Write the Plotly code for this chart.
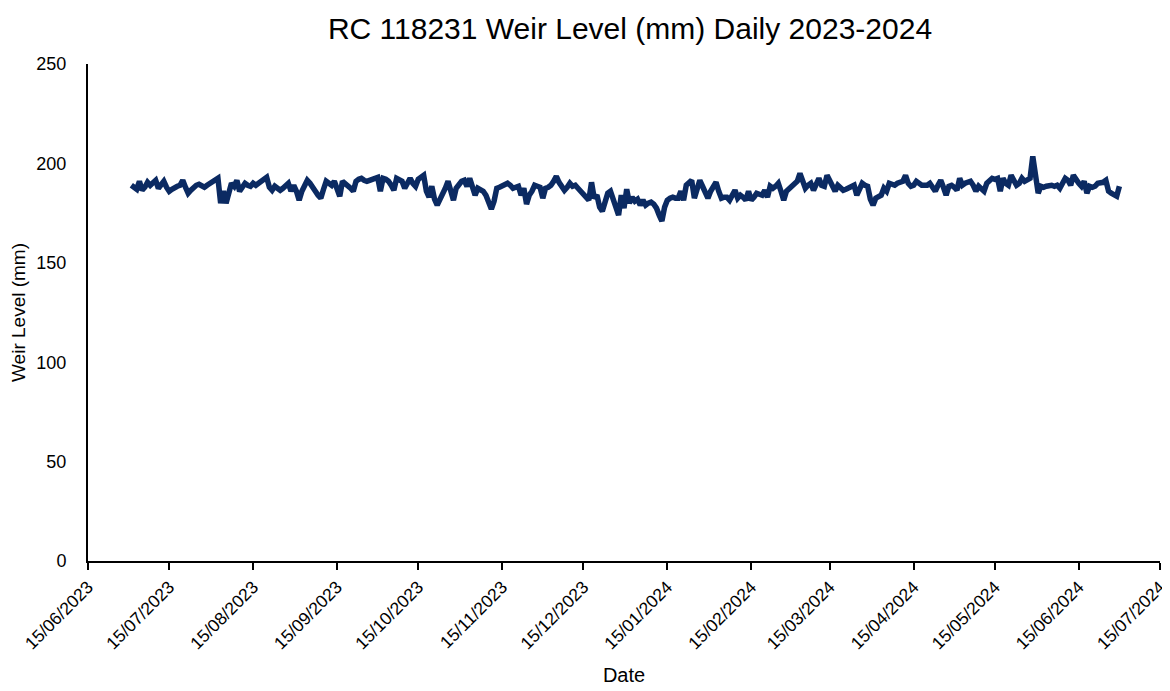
import plotly.graph_objects as go
import pandas as pd

start_date = "2023-07-01"
weir_level_mm = [
    189, 188, 187, 191, 186.5, 188, 190.5, 189, 190, 191.5,
    187.5, 189, 191, 188, 186, 187, 188, 188.5, 189, 191.5,
    188, 185, 186.5, 188, 189, 189.5, 188.5, 188, 189, 190,
    190.5, 191.5, 192.5, 180, 186, 180, 185, 190, 188.5, 191.5,
    186, 188, 190, 189, 188.5, 190, 189, 190, 191, 192,
    193, 188, 186.5, 188.5, 187.5, 186.5, 187.5, 188.5, 190, 186,
    189, 186, 181.5, 186, 188.5, 191.5, 190, 188.5, 186, 184,
    182.5, 187, 191, 190, 189, 191, 187, 183.5, 191, 190,
    189, 187.5, 186, 191, 192, 192.5, 191.5, 191, 191.5, 192,
    192.5, 193, 186, 192.5, 192, 191, 189, 186.5, 192.5, 192,
    191, 187.5, 190, 192.5, 190, 188.5, 192, 193.5, 194, 186,
    183, 188.5, 182, 179, 181.5, 185, 187.5, 191, 186, 181.5,
    187.5, 189.5, 191, 191.5, 188.5, 192.5, 187.5, 184, 187.5, 187,
    186, 184, 180, 177, 181, 187.5, 188, 188.5, 189, 190,
    189, 187.5, 188, 188.5, 184, 187.5, 179.5, 184, 186, 189,
    188.5, 188, 182.5, 187.5, 188, 189, 191, 193.5, 190.5, 188.5,
    186.5, 188, 190, 188.5, 189, 187.5, 186, 185, 183, 181.5,
    190.5, 182.5, 184, 178, 176, 181.5, 185, 186, 182.5, 178,
    174, 184, 177.5, 187, 180, 183, 181, 182, 179, 181.5,
    179, 180, 180.5, 179.5, 177.5, 174, 171, 178, 181.5, 182.5,
    183, 182.5, 182.5, 186, 181.5, 189, 190, 191.5, 182.5, 187,
    191.5, 188.5, 186, 182.5, 186, 188.5, 190.5, 186, 182.5, 183,
    183, 181.5, 184, 186.5, 182.5, 184, 183, 181.5, 186, 181.5,
    183, 185, 184.5, 184, 186.5, 183, 188.5, 187.5, 188.5, 190,
    186, 181.5, 186, 187.5, 188.5, 190, 191, 195, 191, 187.5,
    189, 190, 186.5, 189, 192.5, 189, 188.5, 194, 191, 188,
    186, 189, 188, 186.5, 187, 187.5, 188, 189, 184, 188,
    190, 189, 188.5, 182, 179, 182.5, 183.5, 184, 187.5, 186,
    190, 189.5, 189, 190, 190.5, 191, 194, 190, 188.5, 189,
    191, 189.5, 189, 189, 189, 190, 188, 186, 189, 191.5,
    188, 184, 188.5, 189, 188, 186.5, 192.5, 189, 190, 190.5,
    191, 189, 186, 188.5, 187.5, 186, 190, 191, 192.5, 192,
    192.5, 186, 192.5, 190, 189, 194, 191.5, 189, 190, 192.5,
    191, 192, 192.5, 203.5, 192.5, 185, 188.5, 188, 188.5, 189,
    189, 188.5, 189, 187.5, 190, 192.5, 191.5, 189, 194, 191.5,
    190, 188.5, 191, 185, 188.5, 188, 188.5, 190, 190, 190.5,
    191.5, 186, 185, 184, 183.5, 188.5,
]
dates = pd.date_range(start_date, periods=len(weir_level_mm), freq="D")

x_tick_dates = [
    "2023-06-15", "2023-07-15", "2023-08-15", "2023-09-15", "2023-10-15",
    "2023-11-15", "2023-12-15", "2024-01-15", "2024-02-15", "2024-03-15",
    "2024-04-15", "2024-05-15", "2024-06-15", "2024-07-15",
]
x_tick_labels = [
    "15/06/2023", "15/07/2023", "15/08/2023", "15/09/2023", "15/10/2023",
    "15/11/2023", "15/12/2023", "15/01/2024", "15/02/2024", "15/03/2024",
    "15/04/2024", "15/05/2024", "15/06/2024", "15/07/2024",
]
y_tick_vals = [0, 50, 100, 150, 200, 250]

fig = go.Figure()
fig.add_trace(go.Scatter(
    x=dates, y=weir_level_mm, mode="lines",
    line=dict(color="#0B2A62", width=5.5),
    showlegend=False,
))

# page body has an 8px margin, so the figure is laid out 8px smaller/shifted
W, H = 1162, 683
font_family = "Liberation Sans, Arial, sans-serif"
fig.update_layout(
    width=W, height=H,
    margin=dict(l=80, r=10, t=56, b=130),
    paper_bgcolor="white", plot_bgcolor="white",
    font=dict(family=font_family, color="#000000", size=18),
    title=dict(
        text="RC 118231 Weir Level (mm) Daily 2023-2024",
        x=622 / W, xref="container", xanchor="center",
        y=1 - 20 / H, yref="container", yanchor="middle",
        font=dict(family=font_family, size=30, color="#000000"),
    ),
)
fig.update_xaxes(
    range=["2023-06-15", "2024-07-15"],
    tickmode="array", tickvals=x_tick_dates, ticktext=x_tick_labels,
    tickangle=-45, ticks="outside", ticklen=7, tickwidth=2, tickcolor="black",
    showline=True, linecolor="black", linewidth=2,
    showgrid=False, zeroline=False, automargin=False,
    tickfont=dict(size=17.5),
    title=dict(text="Date", font=dict(size=20), standoff=16),
)
fig.update_yaxes(
    range=[0, 250], tickmode="array", tickvals=y_tick_vals,
    ticks="", showline=True, linecolor="black", linewidth=2,
    showgrid=False, zeroline=False, automargin=False,
    ticklabelstandoff=16,
    tickfont=dict(size=18),
    title=dict(text="Weir Level (mm)", font=dict(size=19), standoff=8),
)

fig.write_html("out.html")
